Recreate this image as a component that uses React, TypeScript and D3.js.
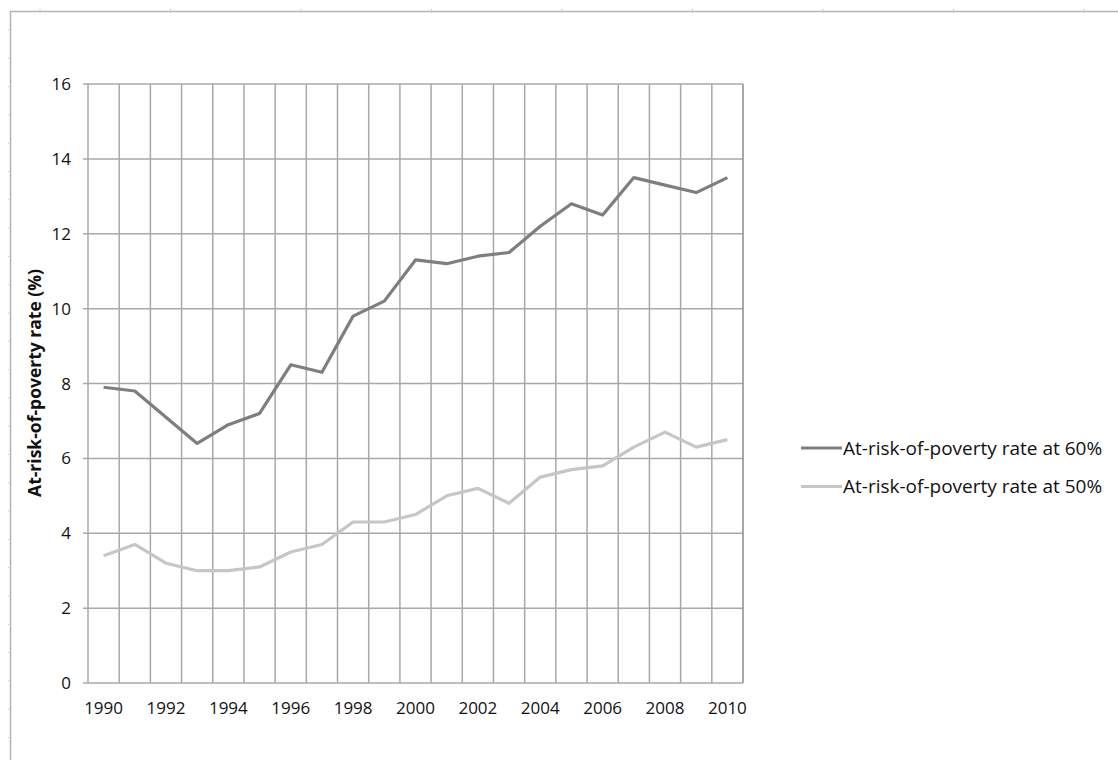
import React from "react";
import * as d3 from "d3";

// Years on the horizontal axis (one band per year)
const years: number[] = [
  1990, 1991, 1992, 1993, 1994, 1995, 1996, 1997, 1998, 1999, 2000,
  2001, 2002, 2003, 2004, 2005, 2006, 2007, 2008, 2009, 2010,
];

// At-risk-of-poverty rate, threshold 60% of median income (%)
const rate60: number[] = [
  7.9, 7.8, 7.1, 6.4, 6.9, 7.2, 8.5, 8.3, 9.8, 10.2, 11.3,
  11.2, 11.4, 11.5, 12.2, 12.8, 12.5, 13.5, 13.3, 13.1, 13.5,
];

// At-risk-of-poverty rate, threshold 50% of median income (%)
const rate50: number[] = [
  3.4, 3.7, 3.2, 3.0, 3.0, 3.1, 3.5, 3.7, 4.3, 4.3, 4.5,
  5.0, 5.2, 4.8, 5.5, 5.7, 5.8, 6.3, 6.7, 6.3, 6.5,
];

const yTicks: number[] = [0, 2, 4, 6, 8, 10, 12, 14, 16];
const xTickYears: number[] = [1990, 1992, 1994, 1996, 1998, 2000, 2002, 2004, 2006, 2008, 2010];

const seriesNames: string[] = [
  "At-risk-of-poverty rate at 60%",
  "At-risk-of-poverty rate at 50%",
];

const W = 1118;
const H = 760;
const FONT = "'Open Sans', Lato, sans-serif";

export default function App() {
  const plot = { left: 88, top: 84, right: 743, bottom: 683 };

  const x = d3
    .scaleBand<number>()
    .domain(years)
    .range([plot.left, plot.right])
    .paddingInner(0)
    .paddingOuter(0);
  const y = d3.scaleLinear().domain([0, 16]).range([plot.bottom, plot.top]);

  const cx = (yr: number) => (x(yr) as number) + x.bandwidth() / 2;

  const line = d3
    .line<number>()
    .x((_, i) => cx(years[i]))
    .y((v) => y(v));

  const series = [
    { name: seriesNames[0], values: rate60, color: "#7e7e7e" },
    { name: seriesNames[1], values: rate50, color: "#c6c6c6" },
  ];

  const gridColor = "#a8a8a8";

  // Category boundaries for vertical gridlines
  const boundaries: number[] = years.map((yr) => x(yr) as number).concat([plot.right]);

  // Small ruler marks on the outer frame
  const topMarks = d3.range(40, W, 130.5);
  const leftMarks = d3.range(30, H, 28.3);

  return (
    <svg
      width={W}
      height={H}
      style={{ position: "absolute", left: 0, top: 0, background: "#fff" }}
      fontFamily={FONT}
    >
      {/* outer frame */}
      <line x1={10} y1={11.5} x2={W} y2={11.5} stroke="#b4b4b4" strokeWidth={1.5} />
      <line x1={10.5} y1={11} x2={10.5} y2={H} stroke="#b4b4b4" strokeWidth={1.5} />
      {topMarks.map((m, i) => (
        <line key={"tm" + i} x1={m} x2={m} y1={9} y2={13} stroke="#c8c8c8" strokeWidth={1} />
      ))}
      {leftMarks.map((m, i) => (
        <line key={"lm" + i} x1={8} x2={12} y1={m} y2={m} stroke="#d2d2d2" strokeWidth={1} />
      ))}

      {/* horizontal gridlines and y ticks */}
      {yTicks.map((t) => (
        <g key={"y" + t}>
          <line x1={plot.left - 5} x2={plot.right} y1={y(t)} y2={y(t)} stroke={gridColor} strokeWidth={1.5} />
          <text
            x={71}
            y={y(t)}
            dy="0.36em"
            textAnchor="end"
            fontSize={17}
            fontWeight={500}
            fill="#111"
          >
            {t}
          </text>
        </g>
      ))}

      {/* vertical gridlines at category boundaries */}
      {boundaries.map((bx, i) => (
        <line
          key={"v" + i}
          x1={bx}
          x2={bx}
          y1={plot.top}
          y2={plot.bottom}
          stroke={i === boundaries.length - 1 ? "#8c8c8c" : gridColor}
          strokeWidth={1.5}
        />
      ))}

      {/* x tick labels */}
      {xTickYears.map((yr) => (
        <text
          key={"x" + yr}
          x={cx(yr)}
          y={714}
          textAnchor="middle"
          fontSize={17}
          fontWeight={500}
          fill="#111"
        >
          {yr}
        </text>
      ))}

      {/* y axis title */}
      <text
        transform={`translate(41, 383) rotate(-90)`}
        textAnchor="middle"
        fontSize={17.5}
        fontWeight="bold"
        fill="#111"
      >
        At-risk-of-poverty rate (%)
      </text>

      {/* series lines */}
      {series.map((s) => (
        <path
          key={s.name}
          d={line(s.values) as string}
          fill="none"
          stroke={s.color}
          strokeWidth={3.2}
          strokeLinejoin="round"
        />
      ))}

      {/* legend */}
      {series.map((s, i) => {
        const ly = 448 + i * 38.5;
        return (
          <g key={"lg" + i}>
            <line x1={801} x2={842} y1={ly} y2={ly} stroke={s.color} strokeWidth={3.2} />
            <text x={843} y={ly} dy="0.36em" fontSize={19} fontWeight={500} fill="#111">
              {s.name}
            </text>
          </g>
        );
      })}
    </svg>
  );
}
